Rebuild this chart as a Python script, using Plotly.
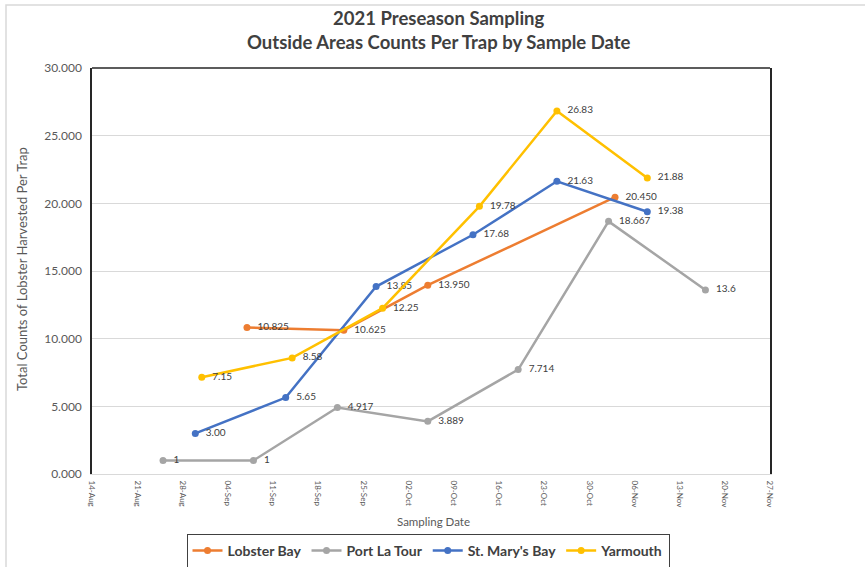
import plotly.graph_objects as go

# sample dates and counts per trap
lobster_dates = ["2021-09-07", "2021-09-22", "2021-10-05", "2021-11-03"]
lobster_vals = [10.825, 10.625, 13.950, 20.450]
lobster_txt = ["10.825", "10.625", "13.950", "20.450"]

portla_dates = ["2021-08-25", "2021-09-08", "2021-09-21", "2021-10-05",
                "2021-10-19", "2021-11-02", "2021-11-17"]
portla_vals = [1, 1, 4.917, 3.889, 7.714, 18.667, 13.6]
portla_txt = ["1", "1", "4.917", "3.889", "7.714", "18.667", "13.6"]

stmary_dates = ["2021-08-30", "2021-09-13", "2021-09-27", "2021-10-12",
                "2021-10-25", "2021-11-08"]
stmary_vals = [3.00, 5.65, 13.85, 17.68, 21.63, 19.38]
stmary_txt = ["3.00", "5.65", "13.85", "17.68", "21.63", "19.38"]

yarm_dates = ["2021-08-31", "2021-09-14", "2021-09-28", "2021-10-13",
              "2021-10-25", "2021-11-08"]
yarm_vals = [7.15, 8.58, 12.25, 19.78, 26.83, 21.88]
yarm_txt = ["7.15", "8.58", "12.25", "19.78", "26.83", "21.88"]

series = [
    ("Lobster Bay", lobster_dates, lobster_vals, lobster_txt, "#ED7D31"),
    ("Port La Tour", portla_dates, portla_vals, portla_txt, "#A5A5A5"),
    ("St. Mary's Bay", stmary_dates, stmary_vals, stmary_txt, "#4472C4"),
    ("Yarmouth", yarm_dates, yarm_vals, yarm_txt, "#FFC000"),
]

FONT = "Lato, 'Open Sans', sans-serif"

fig = go.Figure()
for name, xs, ys, txt, col in series:
    fig.add_trace(go.Scatter(
        x=xs, y=ys, name=name, mode="lines+markers+text",
        text=["  " + t for t in txt], textposition="middle right",
        textfont=dict(size=10, color="#404040", family=FONT),
        line=dict(color=col, width=2.5),
        marker=dict(color=col, size=7),
        cliponaxis=False,
    ))

fig.update_layout(
    width=865, height=567,
    margin=dict(l=92, r=95, t=68, b=93, autoexpand=False),
    paper_bgcolor="white", plot_bgcolor="white",
    font=dict(family=FONT, color="#595959"),
    showlegend=True,
    legend=dict(
        orientation="h", x=(428 - 92) / 678, xanchor="center",
        y=(474 - 551) / 406, yanchor="middle",
        bordercolor="#404040", borderwidth=1,
        font=dict(size=14, color="#404040", family=FONT, weight="bold"),
        itemwidth=30, tracegroupgap=0,
    ),
    xaxis=dict(
        type="date",
        range=["2021-08-14", "2021-11-27"],
        tick0="2021-08-14", dtick=7 * 24 * 3600 * 1000,
        tickformat="%d-%b", tickangle=90,
        tickfont=dict(size=8, color="#595959"),
        ticklabelstandoff=4,
        showgrid=False, showline=True, linecolor="#d9d9d9", linewidth=1,
        zeroline=False, automargin=False,
    ),
    yaxis=dict(
        range=[0, 30], dtick=5, tickformat=".3f",
        tickfont=dict(size=12, color="#595959"),
        ticklabelstandoff=6,
        showgrid=True, gridcolor="#d9d9d9", gridwidth=1,
        showline=True, linecolor="#262626", linewidth=1.5, mirror=True,
        zeroline=False, ticklen=0, automargin=False,
    ),
    annotations=[
        dict(text="<b>2021 Preseason Sampling<br>Outside Areas Counts Per Trap by Sample Date</b>",
             xref="paper", yref="paper", x=(439 - 92) / 678, y=(474 - 30) / 406,
             xanchor="center", yanchor="middle", showarrow=False,
             font=dict(size=18.5, color="#404040", family=FONT)),
        dict(text="Total Counts of Lobster Harvested Per Trap",
             xref="paper", yref="paper", x=(22 - 92) / 678, y=(474 - 269) / 406,
             xanchor="center", yanchor="middle", textangle=-90, showarrow=False,
             font=dict(size=13, color="#595959", family=FONT)),
        dict(text="Sampling Date",
             xref="paper", yref="paper", x=(433 - 92) / 678, y=(474 - 521) / 406,
             xanchor="center", yanchor="middle", showarrow=False,
             font=dict(size=11.5, color="#595959", family=FONT)),
    ],
    shapes=[
        dict(type="line", xref="paper", yref="paper", x0=0, x1=1, y0=1, y1=1,
             line=dict(color="#262626", width=1.5)),
        dict(type="rect", xref="paper", yref="paper",
             x0=(6 - 92) / 678, x1=1.3, y0=-0.4, y1=(474 - 5) / 406,
             line=dict(color="#d9d9d9", width=1.5)),
    ],
)

fig.write_html("out.html", config={"displayModeBar": False},
               post_script="document.body.style.margin='0';")
